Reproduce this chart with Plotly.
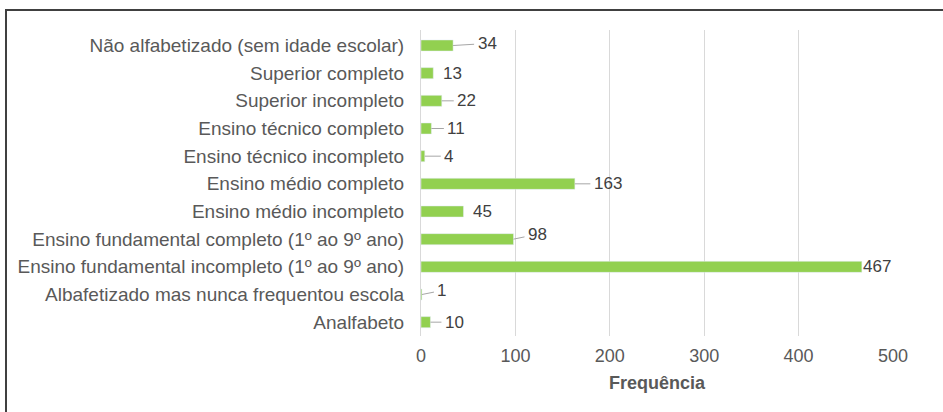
import plotly.graph_objects as go

categories = [
    "Analfabeto",
    "Albafetizado mas nunca frequentou escola",
    "Ensino fundamental incompleto (1º ao 9º ano)",
    "Ensino fundamental completo (1º ao 9º ano)",
    "Ensino médio incompleto",
    "Ensino médio completo",
    "Ensino técnico incompleto",
    "Ensino técnico completo",
    "Superior incompleto",
    "Superior completo",
    "Não alfabetizado (sem idade escolar)",
]
frequencias = [10, 1, 467, 98, 45, 163, 4, 11, 22, 13, 34]

# label offsets (px) from the bar end, as placed in the original chart
label_dx = [24, 20, 15, 24, 19, 33, 24, 25, 25, 19, 34]
label_dy = [0, -4, 0, -5, 0, 0, 0, 0, 0, 0, -2]
label_line = [True, True, False, True, False, True, True, True, True, False, True]

W, H = 943, 412
L, R, T, B = 421, 50, 30, 76
GRAY = "#595959"
FONT = "Liberation Sans, Arial"

fig = go.Figure(go.Bar(
    x=frequencias, y=categories, orientation="h",
    marker_color="#92D050", width=0.4, showlegend=False,
))

for cat, val, dx, dy, line in zip(categories, frequencias, label_dx, label_dy, label_line):
    if line:
        fig.add_annotation(x=val, y=cat, text=str(val), showarrow=True,
                           arrowhead=0, arrowwidth=1, arrowcolor="#A6A6A6",
                           ax=dx, ay=dy, xanchor="center", borderpad=3,
                           font=dict(family=FONT, size=17, color="#404040"))
    else:
        fig.add_annotation(x=val, y=cat, text=str(val), showarrow=False,
                           xanchor="center", xshift=dx, yshift=-dy,
                           font=dict(family=FONT, size=17, color="#404040"))

# chart frame (only top and left edges are visible in the original crop)
pw = W - L - R
ph = H - T - B
fig.add_shape(type="rect", xref="paper", yref="paper",
              x0=(6 - L) / pw, x1=(W + 20 - L) / pw,
              y0=(H - B - (H + 20)) / ph, y1=(H - B - 10) / ph,
              line=dict(color="#404040", width=2))

fig.update_xaxes(range=[0, 500], dtick=100, showgrid=True, gridcolor="#D9D9D9",
                 zeroline=False, showline=False, ticks="", ticklabelstandoff=7,
                 tickfont=dict(family=FONT, size=18, color=GRAY),
                 title=dict(text="<b>Frequência</b>", standoff=11,
                            font=dict(family=FONT, size=18, color=GRAY)))
fig.update_yaxes(showline=True, linecolor="#D9D9D9", linewidth=1, ticks="",
                 ticklabelstandoff=12, showgrid=False,
                 tickfont=dict(family=FONT, size=19, color=GRAY))
fig.update_layout(
    width=W, height=H, margin=dict(l=L, r=R, t=T, b=B, autoexpand=False),
    plot_bgcolor="white", paper_bgcolor="white",
    font=dict(family=FONT, color=GRAY),
)
fig.write_html("out.html", config={"displayModeBar": False},
               post_script="document.body.style.margin='0';")
